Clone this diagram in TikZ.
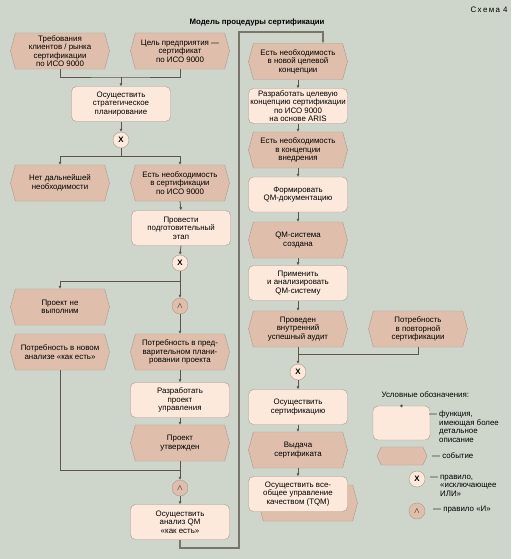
\documentclass[tikz,border=0pt]{standalone}
\usepackage{fontspec}
\setmainfont{Liberation Sans}
\usetikzlibrary{shapes.symbols,arrows.meta}
\definecolor{fonbg}{RGB}{206,214,204}
\definecolor{sobyt}{RGB}{223,191,172}
\definecolor{funk}{RGB}{253,233,219}
\definecolor{kontur}{RGB}{170,152,140}
\definecolor{liniya}{RGB}{95,84,76}
\tikzset{
  sobytie/.style={signal, signal to=west and east, signal pointer angle=150,
    draw=kontur, fill=sobyt, minimum width=99pt, minimum height=36pt,
    inner sep=1pt, align=center},
  funkciya/.style={rectangle, rounded corners=5pt, draw=kontur, fill=funk,
    minimum width=99pt, minimum height=35pt, inner sep=1pt, align=center},
  pravilo/.style={circle, draw=kontur, minimum size=16pt, inner sep=0pt},
  svyaz/.style={draw=liniya, line width=0.8pt, -{Latex[length=3pt,width=3pt]}},
  linia/.style={draw=liniya, line width=0.8pt},
}
\begin{document}
\begin{tikzpicture}[x=1pt,y=-1pt,font=\fontsize{7.9}{8.5}\selectfont]
\fill[fonbg] (0,0) rectangle (511,559);
\useasboundingbox (0,0) rectangle (511,559);
% title
\node[font=\fontsize{7.8}{9}\selectfont\bfseries] (titel) at (257,22) {Модель процедуры сертификации};
\node (shema) at (489,10) {С\kern1.4pt х\kern1.4pt е\kern1.4pt м\kern1.4pt а\kern3pt 4};
% left column
\node[sobytie] (e1) at (60,51) {Требования\\клиентов / рынка\\сертификации\\по ИСО 9000};
\node[sobytie] (e2) at (180,51) {Цель предприятия —\\сертификат\\по ИСО 9000};
\node[funkciya] (f1) at (121,104) {Осуществить\\стратегическое\\планирование};
\node[pravilo, fill=funk] (x1) at (121,140) {\textbf{X}};
\node[sobytie] (e3) at (60,183) {Нет дальнейшей\\необходимости};
\node[sobytie] (e4) at (180,183) {Есть необходимость\\в сертификации\\по ИСО 9000};
\node[funkciya] (f2) at (181,228) {Провести\\подготовительный\\этап};
\node[pravilo, fill=funk] (x2) at (180,263) {\textbf{X}};
\node[sobytie] (e5) at (60,307) {Проект не\\выполним};
\node[pravilo, fill=sobyt] (a1) at (180,306) {$\wedge$};
\node[sobytie] (e6) at (60,352) {Потребность в новом\\анализе «как есть»};
\node[sobytie] (e7) at (180,352) {Потребность в пред-\\варительном плани-\\ровании проекта};
\node[funkciya] (f3) at (180,400) {Разработать\\проект\\управления};
\node[sobytie] (e8) at (180,443) {Проект\\утвержден};
\node[pravilo, fill=sobyt] (a2) at (180,488) {$\wedge$};
\node[funkciya] (f4) at (180,522) {Осуществить\\анализ QM\\«как есть»};
% right column
\node[sobytie] (r1) at (298,61.5) {Есть необходимость\\в новой целевой\\концепции};
\node[funkciya] (r2) at (298,106) {Разработать целевую\\концепцию сертификации\\по ИСО 9000\\на основе ARIS};
\node[sobytie] (r3) at (298,150) {Есть необходимость\\в концепции\\внедрения};
\node[funkciya] (r4) at (298,194.5) {Формировать\\QM-документацию};
\node[sobytie] (r5) at (298,240) {QM-система\\создана};
\node[funkciya] (r6) at (298,283) {Применить\\и анализировать\\QM-систему};
\node[sobytie] (r7) at (298,329) {Проведен\\внутренний\\успешный аудит};
\node[sobytie] (r8) at (418,329) {Потребность\\в повторной\\сертификации};
\node[pravilo, fill=funk] (xr) at (298,372) {\textbf{X}};
\node[funkciya] (r9) at (298,407) {Осуществить\\сертификацию};
\node[sobytie] (r10) at (298,450) {Выдача\\сертификата};
\node[sobytie] (r11s) at (308,503) {};
\node[funkciya] (r11) at (298,494) {Осуществить все-\\общее управление\\качеством (TQM)};
% junctions
\coordinate (j1) at (121,77);
\coordinate (j2) at (121,156);
\coordinate (j3) at (180,281);
\coordinate (j4) at (180,470);
\coordinate (j5) at (298,354);
\coordinate (v1) at (239,548);
\coordinate (v2) at (239,32);
\coordinate (v3) at (323,32);
% connectors, left
\draw[linia] (e1.south) |- (j1) -| (e2.south);
\draw[svyaz] (j1) -- (f1.north);
\draw[svyaz] (f1.south) -- (x1.north);
\draw[linia] (x1.south) -- (j2);
\draw[svyaz] (j2) -| (e3.north);
\draw[svyaz] (j2) -| (e4.north);
\draw[svyaz] (e4.south) -- (f2.north);
\draw[svyaz] (f2.south) -- (x2.north);
\draw[svyaz] (x2.south) -- (a1.north);
\draw[svyaz] (j3) -| (e5.north);
\draw[svyaz] (a1.south) -- (e7.north);
\draw[svyaz] (e7.south) -- (f3.north);
\draw[svyaz] (f3.south) -- (e8.north);
\draw[svyaz] (e8.south) -- (a2.north);
\draw[linia] (e6.south) |- (j4);
\draw[svyaz] (a2.south) -- (f4.north);
% loop to the right column
\draw[svyaz, draw=liniya!75!fonbg, line width=1.1pt] (f4.south) |- (v1) -- (v2) -- (v3) -- (r1.north -| v3);
% connectors, right
\draw[svyaz] (r1.south) -- (r2.north);
\draw[svyaz] (r2.south) -- (r3.north);
\draw[svyaz] (r3.south) -- (r4.north);
\draw[svyaz] (r4.south) -- (r5.north);
\draw[svyaz] (r5.south) -- (r6.north);
\draw[svyaz] (r6.south) -- (r7.north);
\draw[svyaz] (r7.south) -- (xr.north);
\draw[linia] (r8.south) |- (j5);
\draw[svyaz] (xr.south) -- (r9.north);
\draw[svyaz] (r9.south) -- (r10.north);
\draw[svyaz] (r10.south) -- (r11.north);
% legend
\node[anchor=west] (legtitel) at (378,395) {Условные обозначения:};
\node[funkciya, minimum width=57pt, minimum height=34pt] (legf) at (401.5,423) {};
\fill[liniya] (legf.north) circle (1.5pt);
\node[anchor=north west, align=left, inner sep=0pt] (legft) at (439,411) {\llap{— }функция,\\имеющая более\\детальное\\описание};
\node[sobytie, minimum width=50pt, minimum height=18pt, signal pointer angle=130] (lege) at (402,456) {};
\node[anchor=west, inner sep=0pt] (leget) at (432,456) {— событие};
\node[pravilo, fill=funk] (legx) at (417,479) {\textbf{X}};
\node[anchor=north west, align=left, inner sep=0pt] (legxt) at (440,475) {\llap{— }правило,\\«исключающее\\ИЛИ»};
\node[pravilo, fill=sobyt] (lega) at (417,511) {$\wedge$};
\node[anchor=west, inner sep=0pt] (legat) at (433,510) {— правило «И»};
\end{tikzpicture}
\end{document}
